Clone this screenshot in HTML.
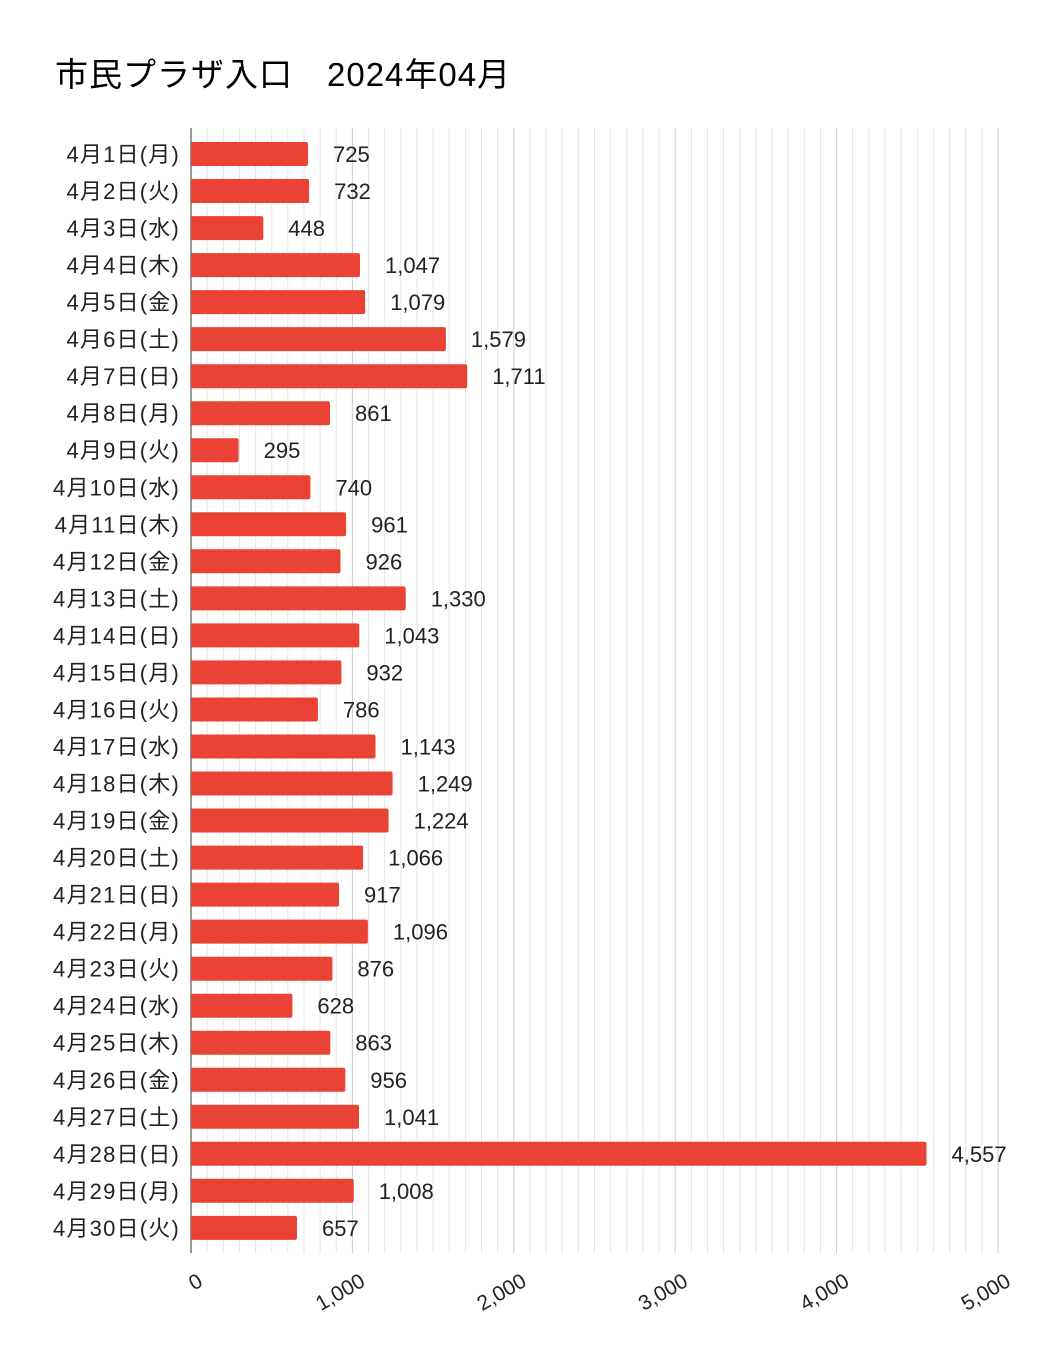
<!DOCTYPE html>
<html><head><meta charset="utf-8"><style>
html,body{margin:0;padding:0;background:#fff;}
svg{display:block;font-family:"Liberation Sans","Noto Sans CJK JP",sans-serif;}
</style></head><body>
<svg id="c" width="1051" height="1351" viewBox="0 0 1051 1351" xmlns="http://www.w3.org/2000/svg">
<rect width="1051" height="1351" fill="#fff"/>
<text x="55" y="86" font-size="33" fill="#000" letter-spacing="1">市民プラザ入口　2024年04月</text>
<g id="g"></g>
</svg>
<script>
var v=[725,732,448,1047,1079,1579,1711,861,295,740,961,926,1330,1043,932,786,1143,1249,1224,1066,917,1096,876,628,863,956,1041,4557,1008,657];
var w=["月","火","水","木","金","土","日"];
var x0=191,k=807/5000,yt=128,yb=1253,s="";
for(var i=1;i<=50;i++){var x=x0+i*k*100;s+='<line x1="'+x.toFixed(1)+'" y1="'+yt+'" x2="'+x.toFixed(1)+'" y2="'+yb+'" stroke="'+(i%10==0?'#ccc':'#e6e6e6')+'" stroke-width="1"/>';}
s+='<line x1="'+x0+'" y1="'+yt+'" x2="'+x0+'" y2="'+yb+'" stroke="#333" stroke-width="1"/>';
for(var i=0;i<30;i++){var cy=154+i*37.03,wd=v[i]*k;
s+='<rect x="'+x0+'" y="'+(cy-12).toFixed(1)+'" width="'+wd.toFixed(1)+'" height="24" rx="2" fill="#ea4335"/>';
var lbl=v[i].toLocaleString("en-US");
s+='<text x="'+(x0+wd+25).toFixed(1)+'" y="'+(cy+8).toFixed(1)+'" font-size="22" fill="#222">'+lbl+'</text>';
s+='<text x="180" y="'+(cy+8).toFixed(1)+'" font-size="22" fill="#222" text-anchor="end" letter-spacing="1.2">4月'+(i+1)+'日('+w[i%7]+')</text>';}
for(var j=0;j<=5;j++){var x=x0+j*1000*k,t=j==0?"0":j+",000";
s+='<text transform="translate('+(x+(j==0?13:14)).toFixed(1)+',1285) rotate(-30)" font-size="21" fill="#222" text-anchor="end">'+t+'</text>';}
document.getElementById("g").innerHTML=s;
</script>
</body></html>
